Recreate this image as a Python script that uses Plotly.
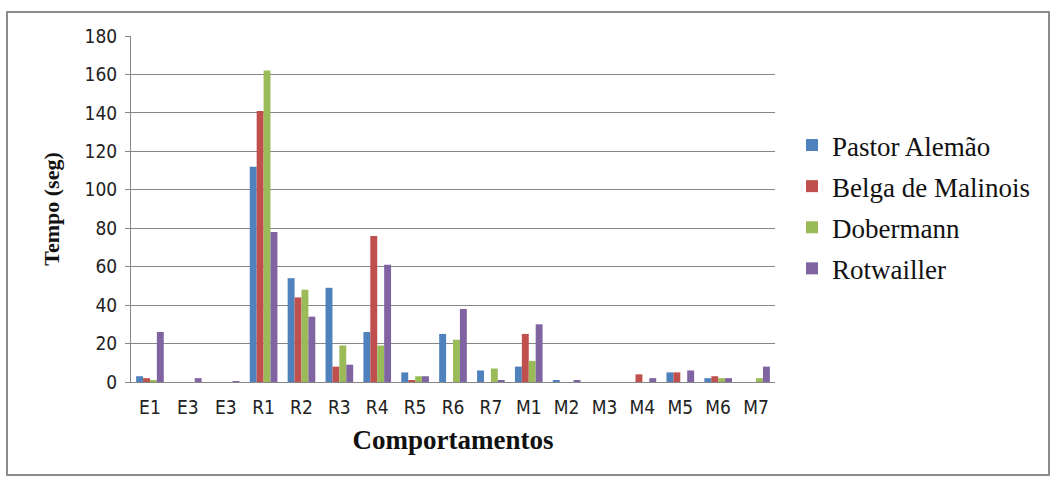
import plotly.graph_objects as go

categories = ["E1", "E3", "E3", "R1", "R2", "R3", "R4", "R5", "R6", "R7",
              "M1", "M2", "M3", "M4", "M5", "M6", "M7"]
pastor_alemao = [3, 0, 0, 112, 54, 49, 26, 5, 25, 6, 8, 1, 0, 0, 5, 2, 0]
belga_malinois = [2, 0, 0, 141, 44, 8, 76, 1, 0, 0, 25, 0, 0, 4, 5, 3, 0]
dobermann = [1, 0, 0, 162, 48, 19, 19, 3, 22, 7, 11, 0, 0, 0, 0, 2, 2]
rotwailler = [26, 2, 0.5, 78, 34, 9, 61, 3, 38, 1, 30, 1, 0, 2, 6, 2, 8]

series_names = ["Pastor Alemão", "Belga de Malinois", "Dobermann", "Rotwailler"]
series_colors = ["#4F81BD", "#C0504D", "#9BBB59", "#8064A2"]
y_ticks = [0, 20, 40, 60, 80, 100, 120, 140, 160, 180]

W, H = 1054, 478
L, R, T, B = 131, 279, 36, 96
pw, ph = W - L - R, H - T - B

positions = list(range(len(categories)))

fig = go.Figure()
for name, vals, col in zip(series_names,
                           [pastor_alemao, belga_malinois, dobermann, rotwailler],
                           series_colors):
    fig.add_trace(go.Bar(x=positions, y=vals, name=name, legendgroup=name,
                         marker=dict(color=col, line=dict(width=0))))


def px_to_paper_x(px):
    return (px - L) / pw


def px_to_paper_y(py):
    return (H - B - py) / ph


# outer chart frame
fig.add_shape(type="rect", xref="paper", yref="paper",
              x0=px_to_paper_x(7), x1=px_to_paper_x(1049),
              y0=px_to_paper_y(475), y1=px_to_paper_y(12),
              line=dict(color="#8C8C8C", width=2), fillcolor="rgba(0,0,0,0)",
              layer="below")

tick_font = dict(family="DejaVu Sans Condensed, Liberation Sans Narrow, sans-serif",
                 size=19, color="#222222")
serif = "Liberation Serif, Times New Roman, serif"

fig.update_layout(
    width=W, height=H,
    margin=dict(l=L, r=R, t=T, b=B),
    paper_bgcolor="white", plot_bgcolor="white",
    barmode="group", bargap=0.27, bargroupgap=0,
    showlegend=True,
    legend=dict(x=px_to_paper_x(792), y=px_to_paper_y(121),
                xanchor="left", yanchor="top",
                font=dict(family=serif, size=27, color="#111111"),
                tracegroupgap=3, itemwidth=30, bgcolor="rgba(0,0,0,0)"),
    xaxis=dict(tickmode="array", tickvals=positions, ticktext=categories,
               range=[-0.5, len(categories) - 0.5],
               showgrid=False, showline=True, linecolor="#868686", linewidth=1,
               ticks="", tickfont=tick_font, ticklabelstandoff=8,
               title=dict(text="<b>Comportamentos</b>",
                          font=dict(family=serif, size=27, color="#111111"),
                          standoff=13)),
    yaxis=dict(range=[0, 180], tickvals=y_ticks,
               showgrid=True, gridcolor="#868686", gridwidth=1,
               showline=True, linecolor="#868686", linewidth=1,
               ticks="outside", ticklen=5, tickcolor="#868686",
               tickfont=tick_font, ticklabelstandoff=4, zeroline=False,
               title=dict(text="<b>Tempo (seg)</b>",
                          font=dict(family=serif, size=22, color="#111111"),
                          standoff=18)),
)

fig.write_html("out.html")
